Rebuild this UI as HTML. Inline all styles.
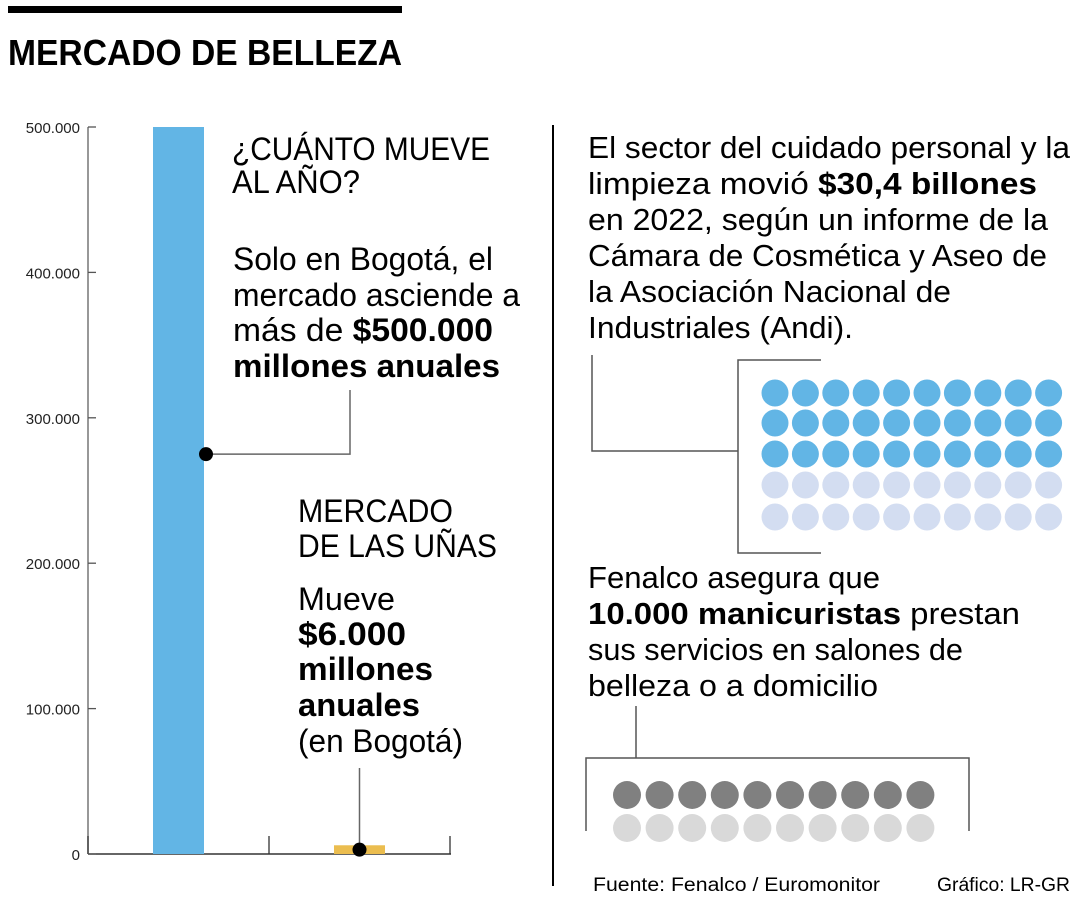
<!DOCTYPE html>
<html><head><meta charset="utf-8">
<style>
html,body{margin:0;padding:0;background:#fff;}
svg{display:block;font-family:"Liberation Sans",sans-serif;}
</style></head>
<body>
<svg id="chart" width="1080" height="900" viewBox="0 0 1080 900" xmlns="http://www.w3.org/2000/svg">
  <rect x="8" y="6" width="394" height="7" fill="#000"/>
  <text x="8" y="65" font-size="36" font-weight="bold" textLength="394" lengthAdjust="spacingAndGlyphs">MERCADO DE BELLEZA</text>

  <g id="axis"></g>
  <g id="bars"></g>

  <!-- left annotations -->
  <g font-size="32">
    <text x="232" y="160" textLength="258" lengthAdjust="spacingAndGlyphs">¿CUÁNTO MUEVE</text>
    <text x="232" y="193" textLength="128" lengthAdjust="spacingAndGlyphs">AL AÑO?</text>
    <text x="233" y="270" textLength="260" lengthAdjust="spacingAndGlyphs">Solo en Bogotá, el</text>
    <text x="233" y="306" textLength="287" lengthAdjust="spacingAndGlyphs">mercado asciende a</text>
    <text x="233" y="341" textLength="260" lengthAdjust="spacingAndGlyphs">más de <tspan font-weight="bold">$500.000</tspan></text>
    <text x="233" y="377" font-weight="bold" textLength="267" lengthAdjust="spacingAndGlyphs">millones anuales</text>
  </g>
  <g font-size="32">
    <text x="298" y="522" textLength="155" lengthAdjust="spacingAndGlyphs">MERCADO</text>
    <text x="298" y="557" textLength="199" lengthAdjust="spacingAndGlyphs">DE LAS UÑAS</text>
    <text x="298" y="610" textLength="97" lengthAdjust="spacingAndGlyphs">Mueve</text>
    <text x="298" y="645" font-weight="bold" textLength="108" lengthAdjust="spacingAndGlyphs">$6.000</text>
    <text x="298" y="680" font-weight="bold" textLength="135" lengthAdjust="spacingAndGlyphs">millones</text>
    <text x="298" y="716" font-weight="bold" textLength="122" lengthAdjust="spacingAndGlyphs">anuales</text>
    <text x="298" y="752" textLength="165" lengthAdjust="spacingAndGlyphs">(en Bogotá)</text>
  </g>

  <line x1="553" y1="125" x2="553" y2="886" stroke="#000" stroke-width="2"/>

  <g font-size="31">
    <text x="588" y="158" textLength="482" lengthAdjust="spacingAndGlyphs">El sector del cuidado personal y la</text>
    <text x="588" y="194" textLength="449" lengthAdjust="spacingAndGlyphs">limpieza movió <tspan font-weight="bold">$30,4 billones</tspan></text>
    <text x="588" y="230" textLength="460" lengthAdjust="spacingAndGlyphs">en 2022, según un informe de la</text>
    <text x="588" y="266" textLength="459" lengthAdjust="spacingAndGlyphs">Cámara de Cosmética y Aseo de</text>
    <text x="588" y="302" textLength="363" lengthAdjust="spacingAndGlyphs">la Asociación Nacional de</text>
    <text x="588" y="338" textLength="265" lengthAdjust="spacingAndGlyphs">Industriales (Andi).</text>
  </g>
  <g font-size="31">
    <text x="588" y="588" textLength="292" lengthAdjust="spacingAndGlyphs">Fenalco asegura que</text>
    <text x="588" y="624" textLength="432" lengthAdjust="spacingAndGlyphs"><tspan font-weight="bold">10.000 manicuristas</tspan> prestan</text>
    <text x="588" y="660" textLength="375" lengthAdjust="spacingAndGlyphs">sus servicios en salones de</text>
    <text x="588" y="696" textLength="290" lengthAdjust="spacingAndGlyphs">belleza o a domicilio</text>
  </g>

  <!-- brackets -->
  <path d="M592 355 V451 H738 M821 360 H738 V553 H821" fill="none" stroke="#555" stroke-width="1.5"/>
  <path d="M636 706 V758 M586 831 V758 H969 V831" fill="none" stroke="#555" stroke-width="1.5"/>

  <g id="dotsA"></g>
  <g id="dotsB"></g>

  <text x="593" y="891" font-size="19" textLength="287" lengthAdjust="spacingAndGlyphs">Fuente: Fenalco / Euromonitor</text>
  <text x="937" y="891" font-size="19" textLength="133" lengthAdjust="spacingAndGlyphs">Gráfico: LR-GR</text>
</svg>
<script>
const categories = ["Mercado de belleza", "Mercado de las uñas"];
const values = [500000, 6000];
const yTicks = [0, 100000, 200000, 300000, 400000, 500000];
const yTickLabels = ["0", "100.000", "200.000", "300.000", "400.000", "500.000"];
const sectorDotsFilled = 30;
const sectorDotsTotal = 50;
const manicuristDotsFilled = 10;
const manicuristDotsTotal = 20;

const NS = "http://www.w3.org/2000/svg";
function mk(tag, attrs, parent){const e=document.createElementNS(NS,tag);for(const k in attrs)e.setAttribute(k,attrs[k]);parent.appendChild(e);return e;}
const y0 = 854, y1 = 127, yMax = 500000;
const y = v => y0 - (v / yMax) * (y0 - y1);
const barX = i => 153 + i * 181;
const barW = 51;

const axis = document.getElementById('axis');
let ln = mk('line',{x1:88,y1:y(yMax),x2:88,y2:y0,stroke:'#777','stroke-width':1.5},axis);


ln = mk('line',{x1:88,y1:y0,x2:451,y2:y0,stroke:'#333','stroke-width':1.5},axis);


[88,269,450].forEach(x=>{
  const t = mk('line',{x1:x,y1:836,x2:x,y2:y0,stroke:'#333','stroke-width':1.3},axis);
  
  
});
yTicks.forEach((v,i)=>{
  const t = mk('line',{x1:88,y1:y(v),x2:96,y2:y(v),stroke:'#555','stroke-width':1.3},axis);
  
  
  const l = mk('text',{x:80,y:y(v)+6,'font-size':15,'text-anchor':'end',fill:'#222'},axis);
  l.textContent = yTickLabels[i];
  
  
});

const bars = document.getElementById('bars');
const colors = ['#62b5e5','#ebbd4f'];
values.forEach((v,i)=>{
  const r = mk('rect',{x:barX(i),y:y(v),width:barW,height:y0-y(v),fill:colors[i]},bars);
  
  
});
// leader lines
const l1 = mk('path',{d:`M206 ${y(values[0]*0.55)} H350 V390`,fill:'none',stroke:'#666','stroke-width':1.5},bars);


const d1 = mk('circle',{cx:206,cy:y(values[0]*0.55),r:7,fill:'#000'},bars);


const cx2 = barX(1)+barW/2;
const l2 = mk('line',{x1:cx2,y1:768,x2:cx2,y2:y(values[1]/2),stroke:'#666','stroke-width':1.5},bars);


const d2 = mk('circle',{cx:cx2,cy:y(values[1]/2),r:7,fill:'#000'},bars);



function grid(g, total, filled, x0, dx, ys, cols, r, on, off){
  for(let i=0;i<total;i++){
    const row=Math.floor(i/cols), col=i%cols;
    const c = mk('circle',{cx:x0+col*dx,cy:ys[row],r:r,fill:i<filled?on:off},g);
    
    
  }
}
grid(document.getElementById('dotsA'), sectorDotsTotal, sectorDotsFilled, 775, 30.4, [393,423,454,485,517], 10, 13.5, '#62b5e5', '#d3ddf1');
grid(document.getElementById('dotsB'), manicuristDotsTotal, manicuristDotsFilled, 627, 32.6, [795,828], 10, 14, '#808080', '#d9d9d9');
</script>
</body></html>
